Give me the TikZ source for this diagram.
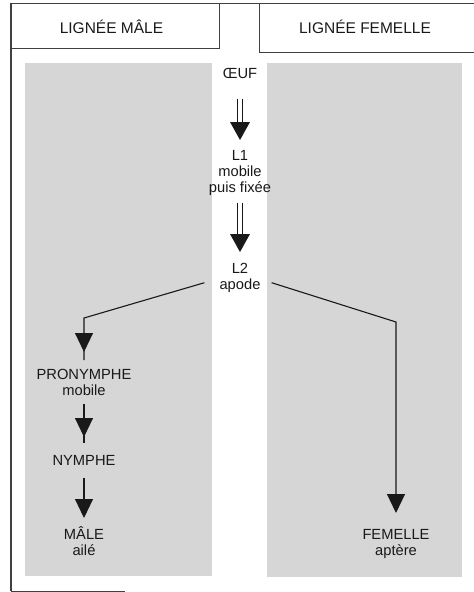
\documentclass[tikz,border=0pt]{standalone}
\usepackage{fontspec}
\setmainfont{Liberation Sans}
\usetikzlibrary{arrows.meta,calc,decorations.markings}

\definecolor{panel}{gray}{0.84}
\definecolor{ink}{gray}{0.1}
\definecolor{rule}{gray}{0.25}

\tikzset{
  lab/.style={inner sep=0pt, align=center, text=ink,
              font=\fontsize{14.7}{16}\selectfont},
  conn/.style={draw=ink, line width=1.1pt},
  shaft/.style={draw=ink, line width=0.9pt},
  head/.style={fill=ink},
  tipat/.style={postaction={decorate},
    decoration={markings, mark=at position #1 with
      {\arrow{Triangle[length=19pt,width=18pt]}}}},
  tipend/.style={-{Triangle[length=19pt,width=18pt]}},
  frame/.style={draw=rule, line width=0.9pt},
}

\begin{document}
\begin{tikzpicture}[x=1pt,y=-1pt]
  \useasboundingbox (0,0) rectangle (474,592);

  % shaded columns
  \fill[panel] (25,63) rectangle (212,576);
  \fill[panel] (267,63) rectangle (462,577);

  % outer frame and header boxes
  \draw[frame] (11,3) -- (474,3);
  \draw[frame, line width=1.8pt] (11,3) -- (11,591);
  \draw[frame] (11,591) -- (125,591);
  \draw[frame] (11,48) -- (219,48) -- (219,3);
  \draw[frame] (259,3) -- (259,52) -- (474,52);

  \node[lab, anchor=base, font=\fontsize{15.5}{16}\selectfont] (hmale) at (111.5,33) {LIGNÉE MÂLE};
  \node[lab, anchor=base, font=\fontsize{15.5}{16}\selectfont] (hfem) at (365,33) {LIGNÉE FEMELLE};

  % common trunk
  \node[lab, anchor=north] (oeuf) at (240,68) {ŒUF};
  \node[lab, anchor=north] (l1) at (240,150) {L1\\mobile\\puis fixée};
  \node[lab, anchor=north] (l2) at (240,263) {L2\\apode};

  % male line
  \node[lab, anchor=north] (pron) at (84,369) {PRONYMPHE\\mobile};
  \node[lab, anchor=north] (nym) at (84,455) {NYMPHE};
  \node[lab, anchor=north] (male) at (84,526) {MÂLE\\ailé};

  % female line
  \node[lab, anchor=north] (fem) at (396,529) {FEMELLE\\aptère};

  % double arrows of the trunk
  \draw[shaft] ($(oeuf.south)+(-2.5,20)$) -- ($(l1.north)+(-2.5,-25)$);
  \draw[shaft] ($(oeuf.south)+(2.5,20)$) -- ($(l1.north)+(2.5,-25)$);
  \fill[head] ($(l1.north)+(0,-10)$) -- ($(l1.north)+(-10,-28)$)
              -- ($(l1.north)+(10,-28)$) -- cycle;

  \draw[shaft] ($(l1.south)+(-2.5,7)$) -- ($(l2.north)+(-2.5,-25)$);
  \draw[shaft] ($(l1.south)+(2.5,7)$) -- ($(l2.north)+(2.5,-25)$);
  \fill[head] ($(l2.north)+(0,-11)$) -- ($(l2.north)+(-10,-29)$)
              -- ($(l2.north)+(10,-29)$) -- cycle;

  % branches
  \draw[conn, tipat=-8pt] ($(l2.south west)+(-15,-10)$)
      -- (pron.north |- 0,318) -- ($(pron.north)+(0,-9)$);
  \draw[conn, tipat=-6pt] ($(pron.south)+(0,8)$) -- ($(nym.north)+(0,-12)$);
  \draw[conn, tipend] ($(nym.south)+(0,12)$) -- ($(male.north)+(0,-8)$);

  \draw[conn, tipend] ($(l2.south east)+(11,-10)$)
      -- (fem.north |- 0,322) -- ($(fem.north)+(0,-16)$);
\end{tikzpicture}
\end{document}
